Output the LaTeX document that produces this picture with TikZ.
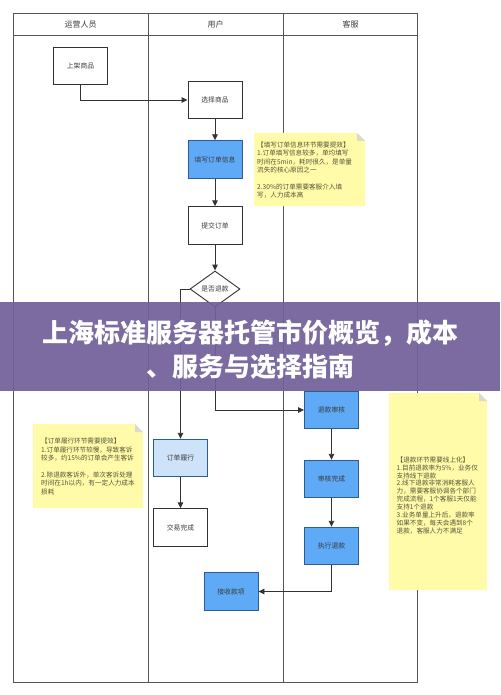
\documentclass[tikz,border=0pt]{standalone}
\usepackage{fontspec}
\setmainfont{Noto Sans CJK SC}
\usetikzlibrary{arrows.meta,shapes.geometric}
\definecolor{lineC}{HTML}{333333}
\definecolor{laneC}{HTML}{555555}
\definecolor{txtC}{HTML}{3A3A3A}
\definecolor{blueF}{HTML}{5EAAF6}
\definecolor{blueD}{HTML}{2E5C8C}
\definecolor{lightF}{HTML}{CDE3F9}
\definecolor{noteF}{HTML}{FFFBA8}
\definecolor{foldC}{HTML}{D9D9CF}
\definecolor{noteT}{HTML}{55553A}
\definecolor{bannerC}{HTML}{72609A}
\tikzset{
 box/.style={draw=lineC, line width=0.9pt, minimum width=54pt, minimum height=37.5pt, inner sep=0pt, font=\fontsize{6.8}{8}\selectfont, text=txtC, fill=white},
 bluebox/.style={box, fill=blueF, draw=blueD},
 lightbox/.style={box, fill=lightF, draw=blueD},
 decision/.style={diamond, aspect=1.4, draw=lineC, line width=0.9pt, fill=white, minimum width=50pt, minimum height=36pt, inner sep=0pt, font=\fontsize{6.8}{8}\selectfont, text=txtC},
 flow/.style={draw=lineC, line width=0.9pt, -{Triangle[length=6pt,width=5.5pt]}},
 notetext/.style={anchor=north west, align=left, inner sep=0pt, font=\fontsize{6.6}{8.4}\selectfont, text=noteT},
 lane/.style={draw=laneC, line width=0.9pt},
 header/.style={font=\fontsize{8}{9}\selectfont, text=txtC},
 notebg/.style={fill=noteF},
 fold/.style={fill=foldC}
}
\begin{document}
\begin{tikzpicture}[x=1pt,y=-1pt]
\useasboundingbox[fill=white] (0,0) rectangle (500,695);
% pool frame
\draw[lane] (13.5,13.5) rectangle (417.5,682);
\draw[lane] (13.5,35) -- (417.5,35);
\draw[lane] (148,13.5) -- (148,682);
\draw[lane] (283,13.5) -- (283,682);
\node[header] (h1) at (80.5,24.5) {运营人员};
\node[header] (h2) at (215.5,24.5) {用户};
\node[header] (h3) at (350.5,24.5) {客服};

% notes
\fill[notebg] (254,133) -- (357,133) -- (365,141) -- (365,206) -- (254,206) -- cycle;
\fill[fold] (357,133) -- (365,141) -- (357,141) -- cycle;
\node[notetext] (n1) at (257,141.5) {【填写订单信息环节需要提效】\\1.订单填写信息较多，单均填写\\时间在5min，耗时很久，是单量\\流失的核心原因之一\\~\\2.30\%的订单需要客服介入填\\写，人力成本高};

\fill[notebg] (33,424) -- (135,424) -- (143,432) -- (143,508) -- (33,508) -- cycle;
\fill[fold] (135,424) -- (143,432) -- (135,432) -- cycle;
\node[notetext] (n2) at (41,438) {【订单履行环节需要提效】\\1.订单履行环节较慢，导致客诉\\较多，约15\%的订单会产生客诉\\~\\2.除退款客诉外，单次客诉处理\\时间在1h以内，有一定人力成本\\损耗};

\fill[notebg] (389,393) -- (479,393) -- (487,401) -- (487,590) -- (389,590) -- cycle;
\fill[fold] (479,393) -- (487,401) -- (479,401) -- cycle;
\node[notetext, font=\fontsize{6.6}{7.9}\selectfont] (n3) at (396.5,456.5) {【退款环节需要线上化】\\1.目前退款率为5\%，业务仅\\支持线下退款\\2.线下退款非常消耗客服人\\力，需要客服协调各个部门\\完成流程，1个客服1天仅能\\支持1个退款\\3.业务单量上升后，退款率\\如果不变，每天会遇到8个\\退款，客服人力不满足};

% nodes
\node[box] (a) at (80.5,66) {上架商品};
\node[box] (b) at (215,100) {选择商品};
\node[bluebox] (c) at (215,159.5) {填写订单信息};
\node[box] (d) at (215,225.5) {提交订单};
\node[decision] (e) at (215,289) {是否退款};
\node[lightbox] (f) at (180.5,458) {订单履行};
\node[box] (g) at (180.5,527.5) {交易完成};
\node[bluebox] (r1) at (331.5,410) {退款审核};
\node[bluebox] (r2) at (331.5,479) {审核完成};
\node[bluebox] (r3) at (331.5,546) {执行退款};
\node[bluebox] (r4) at (231,591.5) {接收款项};

% connectors
\draw[flow] (a.south) |- (b.west);
\draw[flow] (b) -- (c);
\draw[flow] (c) -- (d);
\draw[flow] (d) -- (e);
\draw[flow] (e.west) -| (f.north);
\draw[flow] (f) -- (g);
\draw[flow] (e.south) |- (r1.west);
\draw[flow] (r1) -- (r2);
\draw[flow] (r2) -- (r3);
\draw[flow] (r3.south) |- (r4.east);

% banner
\fill[bannerC, fill opacity=0.93] (0,302) rectangle (500,391);
\node[font=\bfseries\fontsize{26}{34}\selectfont, text=white, align=center] (title) at (250,349.5) {上海标准服务器托管市价概览，成本\\、服务与选择指南};
\end{tikzpicture}
\end{document}
